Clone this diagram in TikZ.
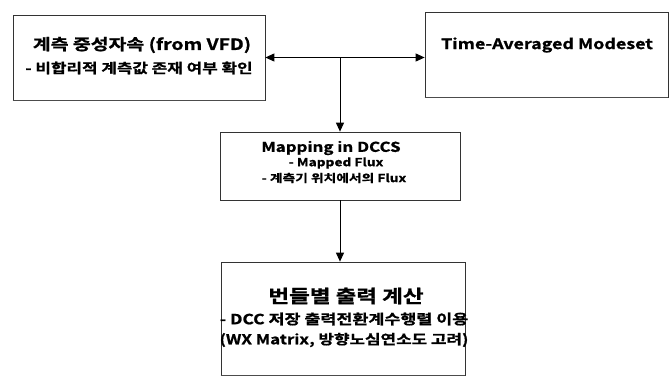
\documentclass[tikz,border=0pt]{standalone}
\usepackage{fontspec}
\setmainfont{Noto Sans CJK KR}
\newfontfamily\wf{Noto Sans CJK KR Bold}[FakeStretch=1.25, FakeBold=1]
\usetikzlibrary{arrows.meta}
\tikzset{
  boxstyle/.style={draw=black!80, line width=0.7pt, inner sep=0pt, align=center},
  shadowline/.style={draw=black!70, line width=1.6pt},
  conn/.style={draw=black, line width=1pt},
  tip/.style={-{Triangle[length=9pt,width=8pt]}},
  txt/.style={font=\wf\fontsize{#1}{#1}\selectfont, inner sep=0pt}
}
\begin{document}
\begin{tikzpicture}[x=1pt,y=-1pt]
\useasboundingbox (0,0) rectangle (670,378);
% boxes
\node[boxstyle, minimum width=252pt, minimum height=85pt] (b1) at (139,57.5) {};
\node[boxstyle, minimum width=243pt, minimum height=85pt] (b2) at (546.5,54.5) {};
\node[boxstyle, minimum width=240pt, minimum height=68pt] (b3) at (340,166) {};
\node[boxstyle, minimum width=244pt, minimum height=113pt] (b4) at (343,318.5) {};
\draw[shadowline] (b1.south west) -- (b1.south east);
\draw[shadowline] (b2.south west) -- (b2.south east);
\draw[shadowline] (b4.south west) -- (b4.south east);
% texts
\node[txt=15.5] (t1) at (142,45) {계측 중성자속 (from VFD)};
\node[txt=13.5] (s1) at (139,68) {- 비합리적 계측값 존재 여부 확인};
\node[txt=14.3] (t2) at (547,45) {Time-Averaged Modeset};
\node[txt=13.5] (t3) at (331,148) {Mapping in DCCS};
\node[txt=11] (s3a) at (336,163) {- Mapped Flux};
\node[txt=11] (s3b) at (334,178) {- 계측기 위치에서의 Flux};
\node[txt=18] (t4) at (346,296) {번들별 출력 계산};
\node[txt=13.9] (s4a) at (344,319) {- DCC 저장 출력전환계수행렬 이용};
\node[txt=13.5] (s4b) at (344,340) {(WX Matrix, 방향노심연소도 고려)};
% connectors
\coordinate (j) at (b3.north |- b1.east);
\draw[conn, tip] (j) -- (b1.east);
\draw[conn, tip] (j) -- (b2.west |- j);
\draw[conn, tip] (j) -- (b3.north);
\draw[conn, tip] (b3.south) -- (b4.north -| b3.south);
\end{tikzpicture}
\end{document}
